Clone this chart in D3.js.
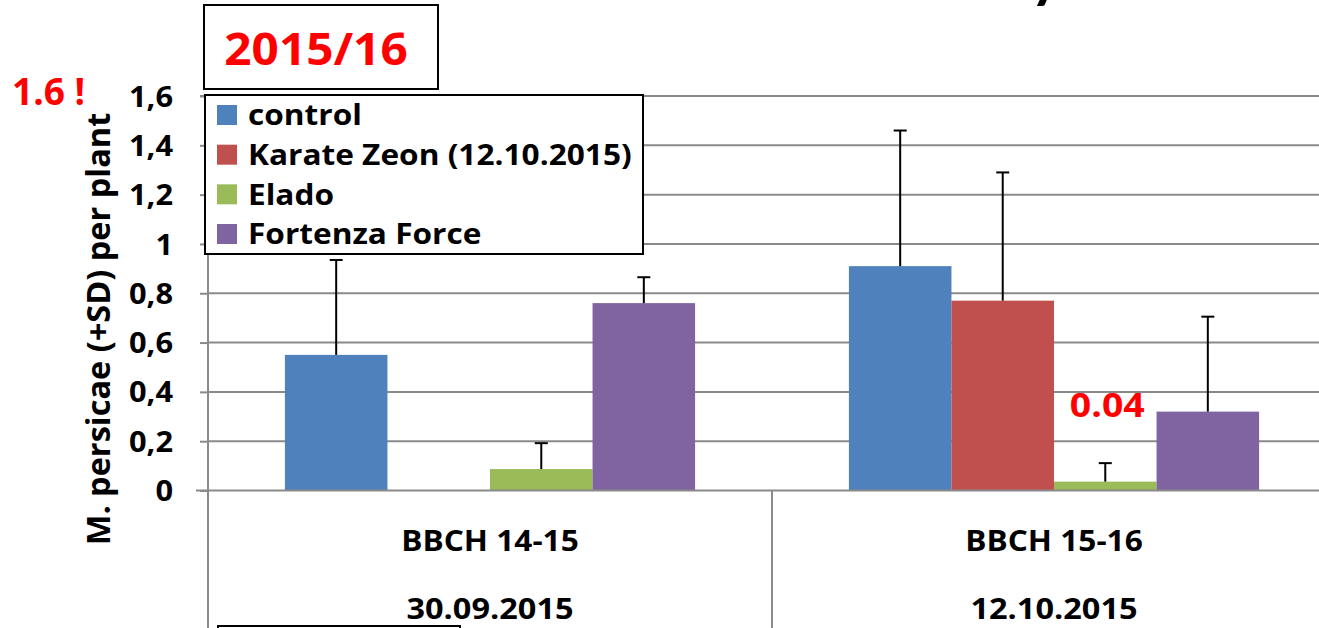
<!DOCTYPE html>
<html>
<head>
<meta charset="utf-8">
<script src="https://cdn.jsdelivr.net/npm/d3@7"></script>
<style>
  html, body { margin: 0; padding: 0; background: #fff; }
  svg { display: block; }
  text { font-family: "Open Sans", "Noto Sans", sans-serif; font-weight: bold; }
</style>
</head>
<body>
<svg id="chart" width="1319" height="628"></svg>
<script>
// ---- data ----
const categories = ["BBCH 14-15", "BBCH 15-16"];
const dates = ["30.09.2015", "12.10.2015"];
const series = ["control", "Karate Zeon (12.10.2015)", "Elado", "Fortenza Force"];
const colors = ["#4F81BD", "#C0504D", "#9BBB59", "#8064A2"];
const meanControl = [0.55, 0.91];
const meanKarate = [null, 0.77];
const meanElado = [0.087, 0.036];
const meanFortenza = [0.76, 0.32];
const sdControl = [0.385, 0.55];
const sdKarate = [null, 0.52];
const sdElado = [0.105, 0.075];
const sdFortenza = [0.105, 0.385];
const yTicks = [0, 0.2, 0.4, 0.6, 0.8, 1.0, 1.2, 1.4, 1.6];
const yLabel = "M. persicae (+SD) per plant";
const titleText = "2015/16";
const noteMax = "1.6 !";
const noteElado = "0.04";

const means = [meanControl, meanKarate, meanElado, meanFortenza];
const sds = [sdControl, sdKarate, sdElado, sdFortenza];
const rows = [];
series.forEach((s, si) => categories.forEach((c, ci) => {
  if (means[si][ci] != null) rows.push({ s, c, si, mean: means[si][ci], sd: sds[si][ci] });
}));

const svg = d3.select("#chart");
const W = 1319, H = 628;
const plot = { left: 208, right: 1336, top: 96, bottom: 490.5 };

const y = d3.scaleLinear().domain([0, 1.6]).range([plot.bottom, plot.top]);
const x0 = d3.scaleBand().domain(categories).range([plot.left, plot.right]).padding(0);
const x1 = d3.scaleBand().domain(series).range([0, x0.bandwidth()]).paddingInner(0).paddingOuter(0.75);
const color = d3.scaleOrdinal().domain(series).range(colors);

// stretch text horizontally around its anchor (reference text is wide)
function stretch(sel, sx) {
  sel.each(function () {
    const t = d3.select(this);
    const x = +t.attr("x") || 0, yy = +t.attr("y") || 0;
    t.attr("transform", `translate(${x},${yy}) scale(${sx},1)`).attr("x", 0).attr("y", 0);
  });
}

// partial title glyph at very top (cut off by the edge)
svg.append("text").attr("x", 1030).attr("y", -4)
  .style("font-family", "Lato, sans-serif").style("font-size", "60px").attr("fill", "#000").text("y");

// gridlines
svg.append("g").selectAll("line").data(yTicks.filter(d => d > 0)).join("line")
  .attr("x1", plot.left).attr("x2", W)
  .attr("y1", d => y(d)).attr("y2", d => y(d))
  .attr("stroke", "#8a8a8a").attr("stroke-width", 2);

// bars
svg.append("g").selectAll("rect").data(rows).join("rect")
  .attr("x", d => x0(d.c) + x1(d.s))
  .attr("width", x1.bandwidth())
  .attr("y", d => y(d.mean))
  .attr("height", d => y(0) - y(d.mean))
  .attr("fill", d => color(d.s));

// error bars
const eb = svg.append("g").attr("stroke", "#000").attr("stroke-width", 2);
rows.forEach(d => {
  const cx = x0(d.c) + x1(d.s) + x1.bandwidth() / 2;
  eb.append("line").attr("x1", cx).attr("x2", cx).attr("y1", y(d.mean)).attr("y2", y(d.mean + d.sd));
  eb.append("line").attr("x1", cx - 6.5).attr("x2", cx + 6.5).attr("y1", y(d.mean + d.sd)).attr("y2", y(d.mean + d.sd));
});

// y axis
const yAxis = d3.axisLeft(y).tickValues(yTicks).tickSize(8).tickPadding(34)
  .tickFormat(d => d3.format("~g")(d).replace(".", ","));
const ya = svg.append("g").attr("transform", `translate(${plot.left},0)`).call(yAxis);
ya.attr("font-size", null).attr("font-family", null);
ya.select(".domain").attr("stroke", "#8a8a8a").attr("stroke-width", 2).attr("d", `M-8,${plot.top}H0V${H}`);
ya.selectAll(".tick line").attr("stroke", "#8a8a8a").attr("stroke-width", 2);
ya.selectAll(".tick text").style("font-size", "28px").attr("fill", "#000").attr("dy", "0.36em")
  .attr("x", -35);
stretch(ya.selectAll(".tick text"), 1.1);

// x axis line and category separators
svg.append("line").attr("x1", 196).attr("x2", W).attr("y1", y(0)).attr("y2", y(0))
  .attr("stroke", "#8a8a8a").attr("stroke-width", 2);
svg.append("g").selectAll("line").data(categories.slice(1)).join("line")
  .attr("x1", d => x0(d)).attr("x2", d => x0(d)).attr("y1", y(0)).attr("y2", H)
  .attr("stroke", "#8a8a8a").attr("stroke-width", 2);

// category labels
const catX = c => x0(c) + x1(series[1]) + x1.bandwidth();
const cl = svg.append("g").selectAll("text").data(categories).join("text")
  .attr("x", c => catX(c)).attr("y", 551)
  .attr("text-anchor", "middle").style("font-size", "28px").text(c => c);
stretch(cl, 1.13);
const dl = svg.append("g").selectAll("text").data(dates).join("text")
  .attr("x", (d, i) => catX(categories[i])).attr("y", 619)
  .attr("text-anchor", "middle").style("font-size", "28px").text(d => d);
stretch(dl, 1.16);

// bottom partial box
svg.append("rect").attr("x", 218).attr("y", 626).attr("width", 242).attr("height", 20)
  .attr("fill", "#fff").attr("stroke", "#000").attr("stroke-width", 2);

// y label
svg.append("text").attr("transform", `translate(110,329) rotate(-90)`)
  .attr("text-anchor", "middle").style("font-size", "32.5px").text(yLabel);

// red note "1.6 !"
svg.append("text").attr("x", 12).attr("y", 105).style("font-size", "37px")
  .attr("fill", "#FF0000").text(noteMax);

// red note "0.04"
const n2 = svg.append("text").attr("x", x0(categories[1]) + x1(series[2]) + x1.bandwidth() / 2 + 2).attr("y", 417)
  .attr("text-anchor", "middle").style("font-size", "34px").attr("fill", "#FF0000").text(noteElado);
stretch(n2, 1.1);

// title box
svg.append("rect").attr("x", 204).attr("y", 5).attr("width", 234).attr("height", 84)
  .attr("fill", "#fff").attr("stroke", "#000").attr("stroke-width", 2);
const tt = svg.append("text").attr("x", 316).attr("y", 65).attr("text-anchor", "middle")
  .style("font-size", "45px").attr("fill", "#FF0000").text(titleText);
stretch(tt, 1.06);

// legend
const lg = svg.append("g");
lg.append("rect").attr("x", 205).attr("y", 95).attr("width", 438).attr("height", 159)
  .attr("fill", "#fff").attr("stroke", "#000").attr("stroke-width", 2);
const ly = d3.scalePoint().domain(series).range([115, 234]);
lg.selectAll("rect.sw").data(series).join("rect").attr("class", "sw")
  .attr("x", 217).attr("y", d => ly(d) - 10).attr("width", 20).attr("height", 20)
  .attr("fill", d => color(d));
const lt = lg.selectAll("text").data(series).join("text")
  .attr("x", 248).attr("y", d => ly(d)).attr("dy", "0.36em")
  .style("font-size", "29px").text(d => d);
stretch(lt, 1.09);
</script>
</body>
</html>
